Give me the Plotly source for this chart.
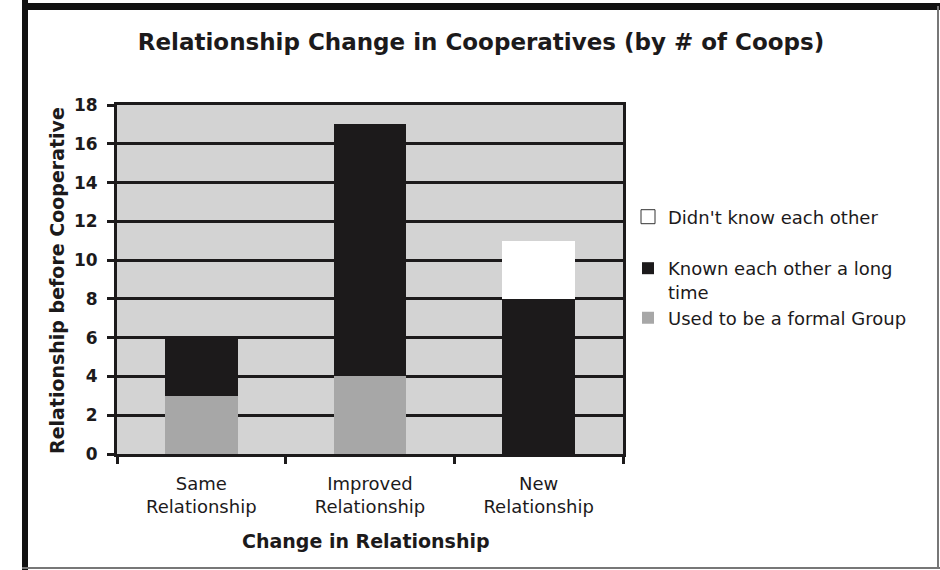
import plotly.graph_objects as go

# Data: number of cooperatives by change in relationship
categories = ["Same<br>Relationship", "Improved<br>Relationship", "New<br>Relationship"]
formal_group = [3, 4, None]
known_long = [3, 13, 8]
didnt_know = [None, None, 3]

series_names = ["Used to be a formal Group", "Known each other a long<br>time", "Didn't know each other"]
y_ticks = [0, 2, 4, 6, 8, 10, 12, 14, 16, 18]

W, H = 940, 570
L, R, T, B = 117, 623, 105, 454  # plot area in pixels

def px(x):
    return (x - L) / (R - L)

def py(y):
    return (B - y) / (B - T)

FONT = "DejaVu Sans"
INK = "#1c1a1b"

fig = go.Figure()
fig.add_trace(go.Bar(x=categories, y=formal_group, name=series_names[0],
                     marker=dict(color="#a7a7a7", line=dict(width=0)), legend="legend3"))
fig.add_trace(go.Bar(x=categories, y=known_long, name=series_names[1],
                     marker=dict(color=INK, line=dict(width=0)), legend="legend2"))
fig.add_trace(go.Bar(x=categories, y=didnt_know, name=series_names[2],
                     marker=dict(color="white", line=dict(width=0)), showlegend=False))
# legend key for the white series, outlined so it shows on the white background
fig.add_trace(go.Scatter(x=[None], y=[None], mode="markers", name=series_names[2],
                         marker=dict(symbol="square", size=14, color="white",
                                     line=dict(color="#333", width=1)),
                         legend="legend"))

legend_common = dict(font=dict(family=FONT, size=18, color=INK), bgcolor="rgba(0,0,0,0)",
                     borderwidth=0, xanchor="left", itemclick=False)

frame = [
    # outer frame
    dict(type="line", x0=px(25), x1=px(25), y0=py(0), y1=py(575), line=dict(color="#111", width=6)),
    dict(type="line", x0=px(22), x1=px(945), y0=py(6.5), y1=py(6.5), line=dict(color="#111", width=7)),
    dict(type="line", x0=px(938), x1=px(938), y0=py(6), y1=py(568), line=dict(color="#777", width=2)),
    dict(type="line", x0=px(22), x1=px(945), y0=py(568), y1=py(568), line=dict(color="#777", width=2)),
]
for s in frame:
    s.update(xref="paper", yref="paper", layer="above")

fig.update_layout(
    width=W, height=H, autosize=False,
    margin=dict(l=L, r=W - R, t=T, b=H - B, pad=0),
    paper_bgcolor="white", plot_bgcolor="#d3d3d3",
    barmode="stack", bargap=0.57,
    font=dict(family=FONT, size=15, color=INK),
    title=dict(text="<b>Relationship Change in Cooperatives (by # of Coops)</b>",
               font=dict(family=FONT, size=23, color=INK),
               xref="container", yref="container", x=481 / W, y=1 - 42 / H,
               xanchor="center", yanchor="middle"),
    xaxis=dict(showline=True, linecolor=INK, linewidth=3, mirror=True,
               ticks="outside", tickson="boundaries", ticklen=7, tickwidth=3, tickcolor=INK,
               tickfont=dict(family=FONT, size=18, color=INK), ticklabelstandoff=11,
               showgrid=False, fixedrange=True),
    yaxis=dict(range=[0, 18], tickvals=y_ticks, showline=True, linecolor=INK, linewidth=3,
               mirror=True, ticks="outside", ticklen=7, tickwidth=3, tickcolor=INK,
               tickfont=dict(family=FONT, size=17, color=INK, weight="bold"), ticklabelstandoff=6,
               showgrid=True, gridcolor=INK, gridwidth=3, zeroline=False, fixedrange=True),
    legend=dict(x=px(628), y=py(217), yanchor="middle", **legend_common),
    legend2=dict(x=px(628), y=py(250), yanchor="top", valign="top", **legend_common),
    legend3=dict(x=px(628), y=py(318), yanchor="middle", **legend_common),
    shapes=frame,
    annotations=[
        dict(text="<b>Change in Relationship</b>", xref="paper", yref="paper",
             x=px(366), y=py(541), xanchor="center", yanchor="middle", showarrow=False,
             font=dict(family=FONT, size=19, color=INK)),
        dict(text="<b>Relationship before Cooperative</b>", xref="paper", yref="paper",
             x=px(57), y=py(281), xanchor="center", yanchor="middle", textangle=-90,
             showarrow=False, font=dict(family=FONT, size=19, color=INK)),
    ],
)

fig.write_html("out.html")
